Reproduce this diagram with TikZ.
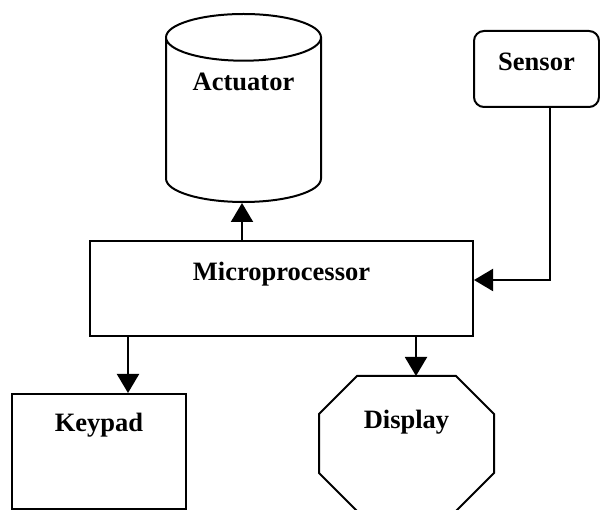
\documentclass[tikz,border=0pt]{standalone}
\usepackage{fontspec}
\setmainfont{Liberation Serif}
\usetikzlibrary{arrows.meta,shapes.geometric}
\begin{document}
\begin{tikzpicture}[x=1pt,y=-1pt,line width=2pt,
    block/.style={draw,font=\fontsize{26.5}{30}\selectfont\bfseries,text height=18pt,inner sep=0pt},
    arr/.style={-{Triangle[length=19pt,width=22pt]}}]
      \useasboundingbox (0,0) rectangle (600,510);
      \draw
        (243.5,108) node[block,cylinder,anchor=shape center,shape border rotate=90,aspect=0.46,minimum width=155pt,minimum height=188pt,text depth=78pt] (act){Actuator}
        (536.5,69) node[block,rounded corners=10pt,minimum width=125pt,minimum height=76pt,text depth=14pt] (sen){Sensor}
        (281.5,288.5) node[block,minimum width=383pt,minimum height=95pt,text depth=33pt] (mp){Microprocessor}
        (99,451.5) node[block,minimum width=174pt,minimum height=115pt,text depth=58pt] (kp){Keypad}
        (406.5,443.5) node[block,draw=none,minimum width=173pt,minimum height=133pt,text depth=47pt] (disp){Display};
      \draw ([xshift=38pt]disp.north west) -- ([xshift=-38pt]disp.north east) -- ([yshift=-38pt]disp.north east)
        -- ([yshift=38pt]disp.south east) -- ([xshift=-38pt]disp.south east) -- ([xshift=38pt]disp.south west)
        -- ([yshift=38pt]disp.south west) -- ([yshift=-38pt]disp.north west) -- cycle;
      \begin{scope}[arr]
        \draw ([xshift=-1.5pt]mp.north -| act.south) -- ([xshift=-1.5pt]act.south);
        \draw ([xshift=13.5pt]sen.south) |- ([yshift=8.5pt]mp.east);
        \draw ([xshift=-153.5pt]mp.south) -- ([xshift=-153.5pt]mp.south |- kp.north);
        \draw ([xshift=134.5pt]mp.south) -- ([xshift=134.5pt]mp.south |- disp.north);
      \end{scope}
    \end{tikzpicture}
\end{document}
